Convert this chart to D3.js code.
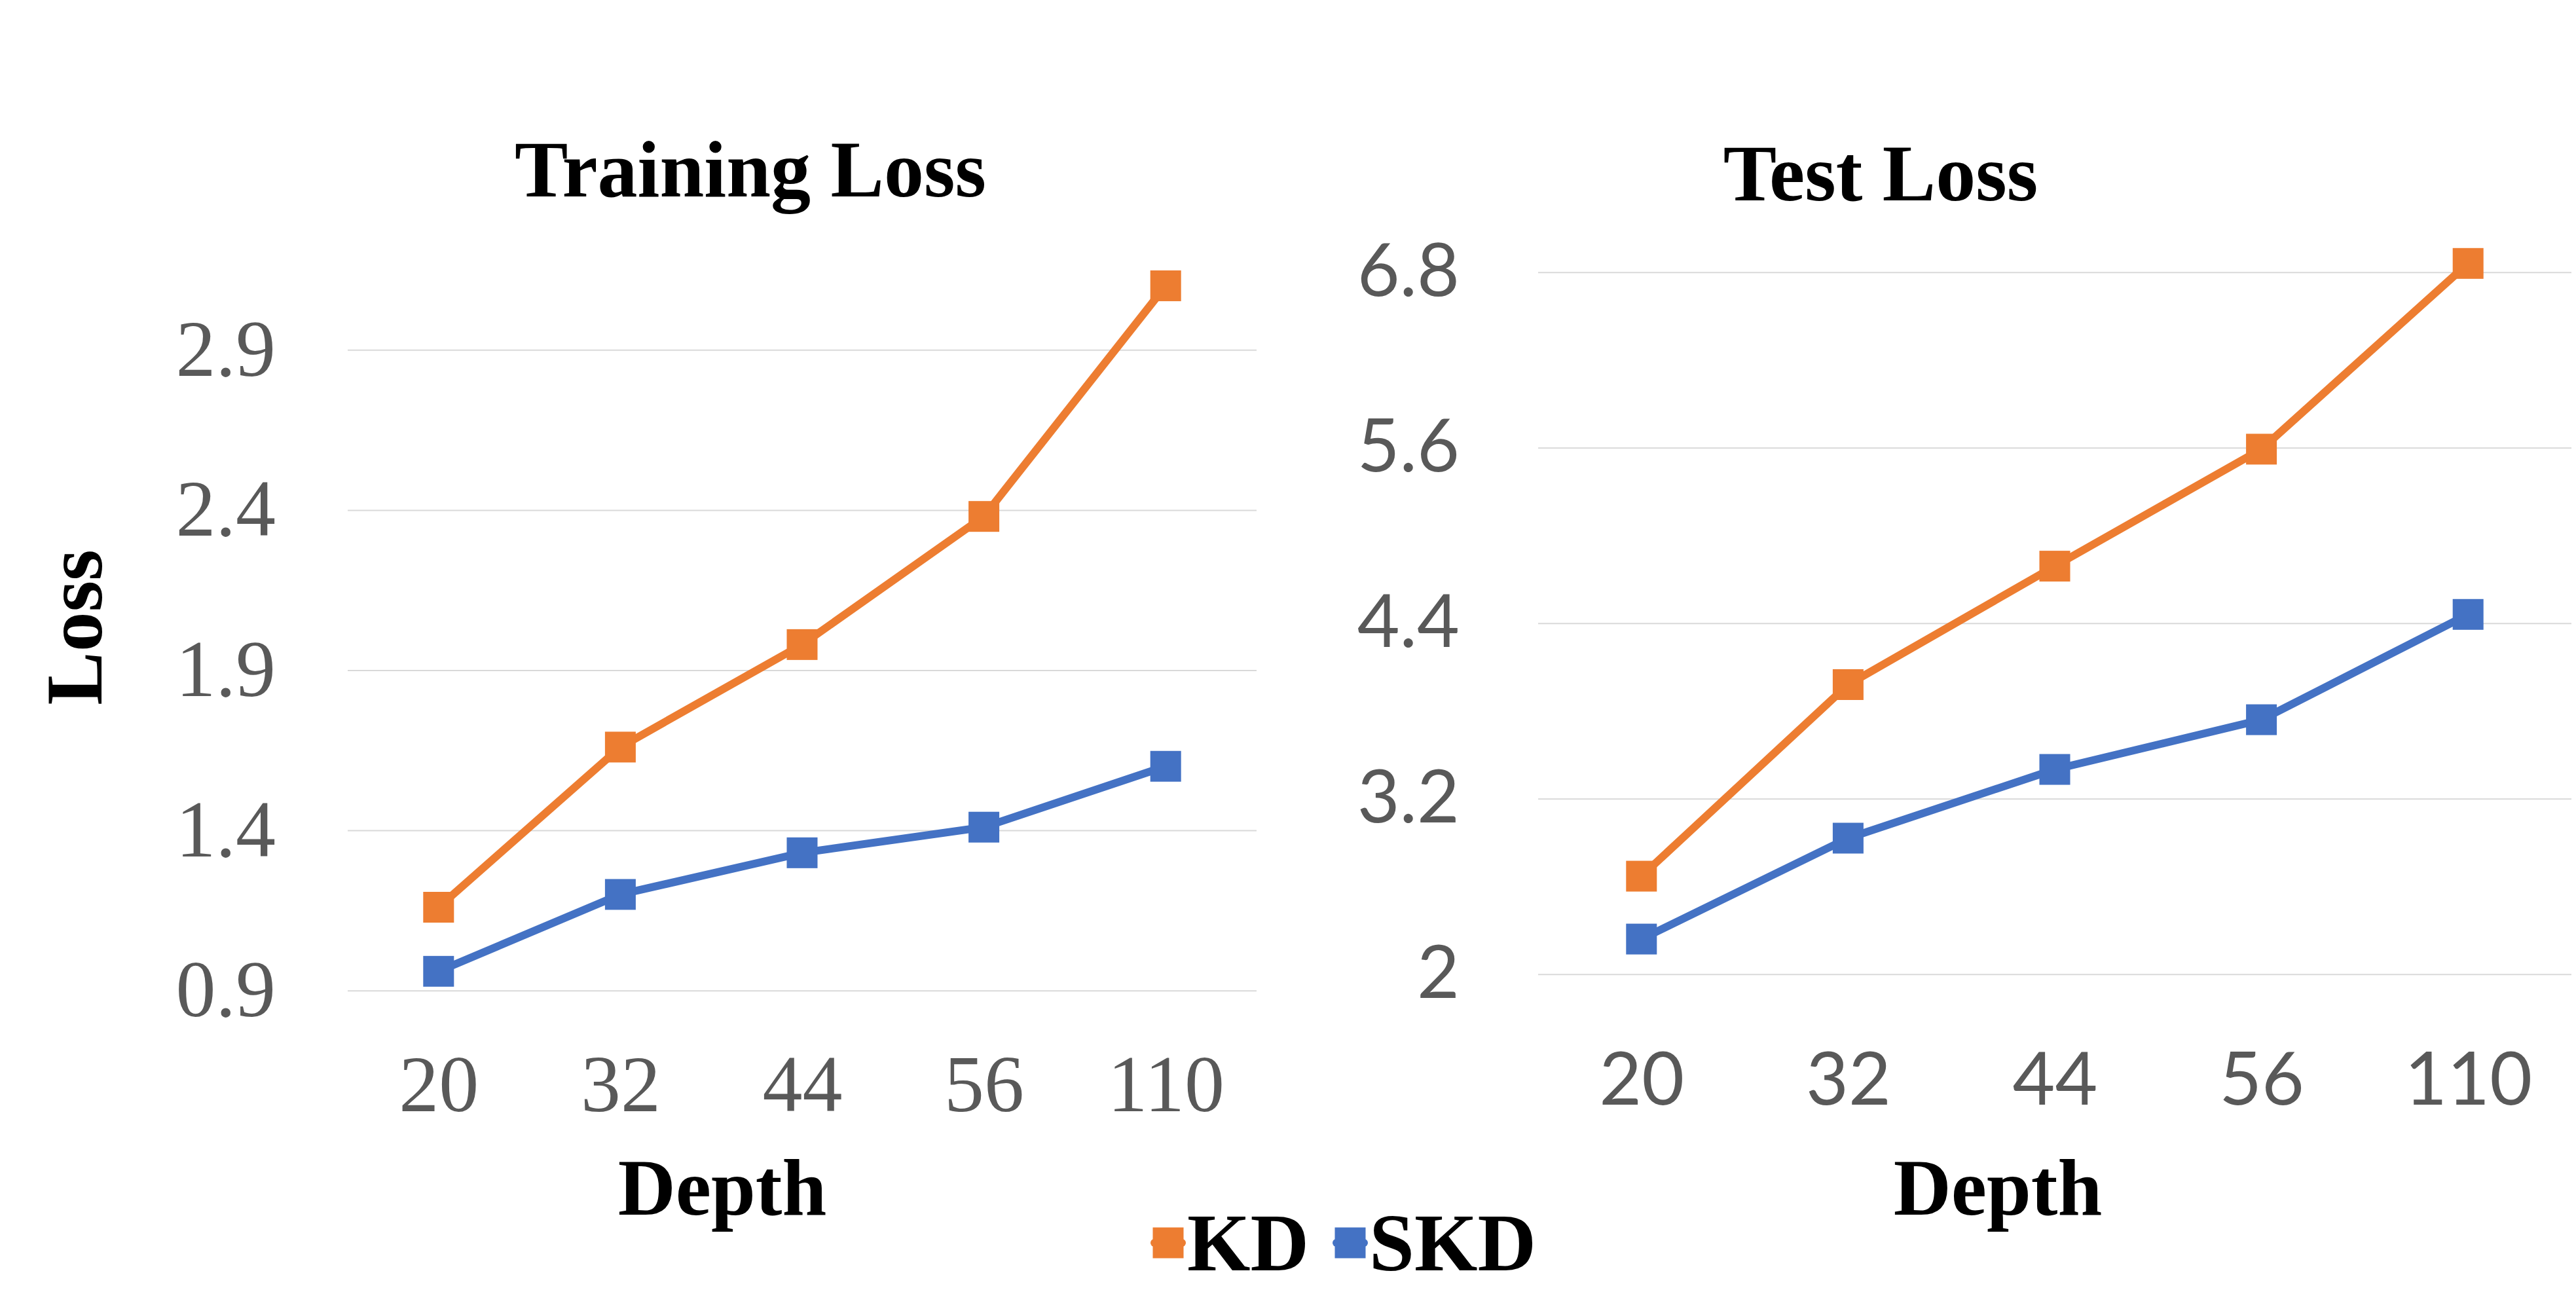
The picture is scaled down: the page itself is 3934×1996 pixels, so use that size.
<!DOCTYPE html>
<html>
<head>
<meta charset="utf-8">
<script src="https://cdn.jsdelivr.net/npm/d3@7"></script>
<style>
  body { margin: 0; background: #fff; }
  svg { display: block; }
</style>
</head>
<body>
<svg id="chart"></svg>
<script>
// values
const depths = ['20', '32', '44', '56', '110'];
const trainKD = [1.16, 1.66, 1.98, 2.38, 3.10];
const trainSKD = [0.96, 1.20, 1.33, 1.41, 1.60];
const testKD = [2.67, 3.98, 4.79, 5.59, 6.86];
const testSKD = [2.24, 2.93, 3.40, 3.74, 4.46];
const trainTicks = [0.9, 1.4, 1.9, 2.4, 2.9];
const testTicks = [2, 3.2, 4.4, 5.6, 6.8];
const seriesNames = ['KD', 'SKD'];
const seriesColors = ['#ED7D31', '#4472C4'];

const W = 3934, H = 1996;
const serif = '"Liberation Serif", "Times New Roman", serif';
const sans = 'Lato, "Open Sans", sans-serif';

const svg = d3.select('#chart')
    .attr('width', W)
    .attr('height', H);

svg.append('rect')
    .attr('width', W)
    .attr('height', H)
    .attr('fill', '#fff');

class LossChart {

    constructor(_config, _series) {
        this.config = _config;
        this.series = _series;
        this.initVis();
    }

    initVis() {
        let vis = this;
        let c = vis.config;

        vis.xScale = d3.scalePoint()
            .domain(depths)
            .range([c.left, c.right])
            .padding(0.5);

        vis.yScale = d3.scaleLinear()
            .domain([c.ticks[0], c.ticks[c.ticks.length - 1]])
            .range([c.bottom, c.top]);

        vis.chart = svg.append('g');

        // gridlines
        vis.chart.append('g')
            .attr('transform', `translate(${c.left},0)`)
            .call(d3.axisLeft(vis.yScale)
                .tickValues(c.ticks)
                .tickSize(-(c.right - c.left))
                .tickFormat(''))
            .call(g => g.select('.domain').remove())
            .call(g => g.selectAll('line')
                .attr('stroke', '#d9d9d9')
                .attr('stroke-width', 2));

        // y tick labels
        vis.chart.append('g')
            .attr('transform', `translate(${c.left},0)`)
            .call(d3.axisLeft(vis.yScale)
                .tickValues(c.ticks)
                .tickSize(0)
                .tickPadding(c.yPad)
                .tickFormat(d => String(d)))
            .call(g => g.select('.domain').remove())
            .call(g => g.selectAll('text')
                .attr('fill', '#595959')
                .style('font-family', c.tickFont)
                .style('font-size', c.tickSize + 'px'));

        // x tick labels
        vis.chart.append('g')
            .attr('transform', `translate(0,${c.bottom})`)
            .call(d3.axisBottom(vis.xScale)
                .tickSize(0)
                .tickPadding(c.xPad))
            .call(g => g.select('.domain').remove())
            .call(g => g.selectAll('text')
                .attr('fill', '#595959')
                .style('font-family', c.tickFont)
                .style('font-size', c.tickSize + 'px'));

        vis.chart.append('text')
            .attr('x', c.titleX)
            .attr('y', c.titleY)
            .attr('text-anchor', 'middle')
            .style('font-family', serif)
            .style('font-weight', 700)
            .style('font-size', '122px')
            .text(c.title);

        vis.chart.append('text')
            .attr('x', c.depthX)
            .attr('y', c.depthY)
            .attr('text-anchor', 'middle')
            .style('font-family', serif)
            .style('font-weight', 700)
            .style('font-size', '122px')
            .text('Depth');

        vis.renderVis();
    }

    renderVis() {
        let vis = this;

        const line = d3.line()
            .x((d, i) => vis.xScale(depths[i]))
            .y(d => vis.yScale(d));

        vis.series.forEach((values, k) => {
            vis.chart.append('path')
                .datum(values)
                .attr('fill', 'none')
                .attr('stroke', seriesColors[k])
                .attr('stroke-width', 12)
                .attr('stroke-linejoin', 'round')
                .attr('d', line);

            vis.chart.selectAll('.m' + k)
                .data(values)
                .join('rect')
                .attr('class', 'm' + k)
                .attr('x', (d, i) => vis.xScale(depths[i]) - 23.5)
                .attr('y', d => vis.yScale(d) - 23.5)
                .attr('width', 47)
                .attr('height', 47)
                .attr('fill', seriesColors[k]);
        });
    }
}

new LossChart({
    left: 531, right: 1919, top: 534.3, bottom: 1512.7,
    ticks: trainTicks, tickFont: serif, tickSize: 122,
    yPad: 110, xPad: 98,
    title: 'Training Loss', titleX: 1146, titleY: 300,
    depthX: 1103, depthY: 1855
}, [trainKD, trainSKD]);

new LossChart({
    left: 2349, right: 3927, top: 415.7, bottom: 1487.7,
    ticks: testTicks, tickFont: sans, tickSize: 112,
    yPad: 120, xPad: 120,
    title: 'Test Loss', titleX: 2872, titleY: 306,
    depthX: 3051, depthY: 1855
}, [testKD, testSKD]);

// y axis title
svg.append('text')
    .attr('transform', 'translate(155,958) rotate(-90)')
    .attr('text-anchor', 'middle')
    .style('font-family', serif)
    .style('font-weight', 700)
    .style('font-size', '122px')
    .text('Loss');

// legend
const legend = svg.append('g');
let lx = 1757;
seriesNames.forEach((name, k) => {
    const item = legend.append('g').attr('transform', `translate(${lx},1898)`);
    item.append('line')
        .attr('x1', 6).attr('x2', 48)
        .attr('stroke', seriesColors[k])
        .attr('stroke-width', 12)
        .attr('stroke-linecap', 'round');
    item.append('rect')
        .attr('x', 3.5).attr('y', -23.5)
        .attr('width', 47).attr('height', 47)
        .attr('fill', seriesColors[k]);
    const t = item.append('text')
        .attr('x', 56)
        .attr('y', 42)
        .style('font-family', serif)
        .style('font-weight', 700)
        .style('font-size', '124px')
        .text(name);
    lx += 56 + t.node().getComputedTextLength() + 36;
});
</script>
</body>
</html>
